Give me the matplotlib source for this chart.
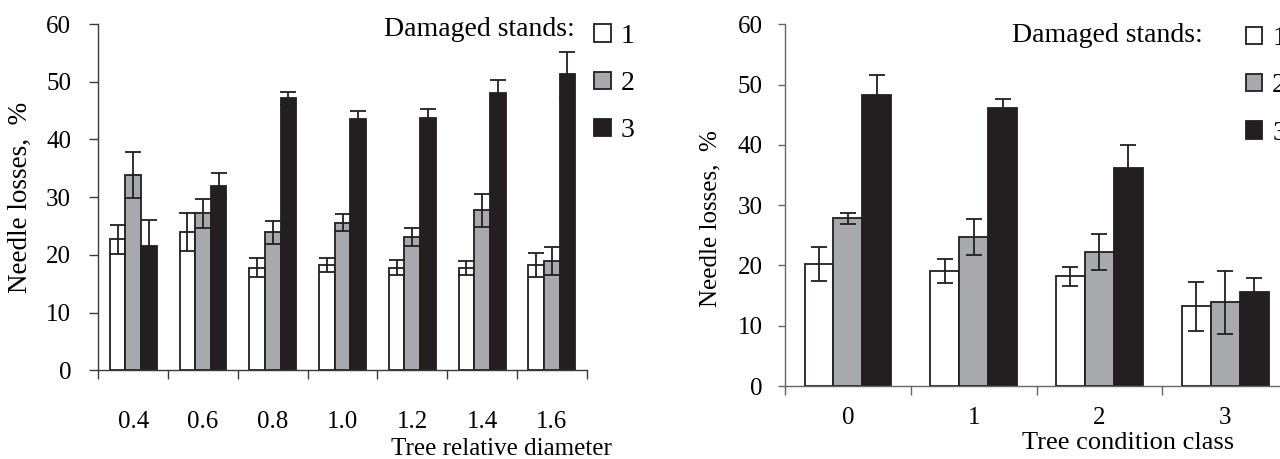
import matplotlib
matplotlib.use("Agg")
import matplotlib.pyplot as plt
import numpy as np

plt.rcParams['font.family'] = ['Liberation Serif', 'DejaVu Serif']

# left panel: needle losses by tree relative diameter
diam_labels = ["0.4", "0.6", "0.8", "1.0", "1.2", "1.4", "1.6"]
diam_s1 = [22.7, 23.9, 17.8, 18.2, 17.8, 17.8, 18.2]
diam_s1_err = [2.5, 3.3, 1.6, 1.2, 1.3, 1.2, 2.1]
diam_s2 = [33.9, 27.2, 23.9, 25.6, 23.1, 27.7, 19.0]
diam_s2_err = [4.0, 2.5, 2.0, 1.5, 1.6, 2.9, 2.4]
diam_s3 = [21.6, 31.9, 47.1, 43.5, 43.8, 48.0, 51.3]
diam_s3_err = [4.4, 2.3, 1.2, 1.5, 1.5, 2.3, 3.9]

# right panel: needle losses by tree condition class
cond_labels = ["0", "1", "2", "3"]
cond_s1 = [20.2, 19.1, 18.2, 13.2]
cond_s1_err = [2.8, 2.0, 1.6, 4.0]
cond_s2 = [27.8, 24.7, 22.3, 13.9]
cond_s2_err = [0.9, 3.0, 3.0, 5.2]
cond_s3 = [48.2, 46.2, 36.2, 15.6]
cond_s3_err = [3.4, 1.4, 3.8, 2.3]

stand_names = ["1", "2", "3"]
colors = ["white", "#a7a9ac", "#231f20"]
dark = "#231f20"


def draw_panel(ax, labels, series, errors, width, capsize, xlabel, ylabel,
               xlabel_pos, ylabel_pos, title_pos, legend_pos, label_pad,
               xlabel_size, ylabel_size, ytick_len, ytick_pad, spine_color):
    x = np.arange(len(labels))
    handles = []
    for i, (vals, errs) in enumerate(zip(series, errors)):
        pos = x + (i - 1) * width
        b = ax.bar(pos, vals, width, color=colors[i], edgecolor=dark,
                   linewidth=1.3, zorder=2)
        ax.errorbar(pos, vals, yerr=errs, fmt="none", ecolor=dark,
                    elinewidth=1.3, capsize=capsize, capthick=1.3, zorder=3)
        handles.append(b)

    ax.set_xlim(-0.5, len(labels) - 0.5)
    ax.set_ylim(0, 60)
    ax.set_yticks(range(0, 61, 10))
    ax.set_xticks(np.arange(len(labels) + 1) - 0.5)
    ax.set_xticklabels([])
    ax.set_xticks(x, minor=True)
    ax.set_xticklabels(labels, minor=True)
    ax.tick_params(axis="x", which="minor", length=0, pad=label_pad, labelsize=18)
    ax.tick_params(axis="x", which="major", length=6.5, width=1, color=spine_color)
    ax.tick_params(axis="y", length=ytick_len, width=1, color=spine_color,
                   labelsize=18, pad=ytick_pad)

    for s in ["top", "right"]:
        ax.spines[s].set_visible(False)
    for s in ["left", "bottom"]:
        ax.spines[s].set_color(spine_color)
        ax.spines[s].set_linewidth(1.0)

    ax.set_xlabel(xlabel, fontsize=xlabel_size)
    ax.xaxis.set_label_coords(*xlabel_pos)
    ax.xaxis.label.set_va("center")
    ax.set_ylabel(ylabel, fontsize=ylabel_size)
    ax.yaxis.set_label_coords(*ylabel_pos)
    ax.yaxis.label.set_va("center")

    ax.text(title_pos[0], title_pos[1], "Damaged stands:", transform=ax.transAxes,
            ha="right", va="center", fontsize=20)
    ax.legend(handles, stand_names, loc="upper left", bbox_to_anchor=legend_pos,
              frameon=False, fontsize=20, handlelength=0.6, handleheight=0.6,
              handletextpad=0.35, labelspacing=0.8, borderpad=0, borderaxespad=0)


fig = plt.figure(figsize=(12.8, 4.59), dpi=100)

ax1 = fig.add_axes([0.0768, 0.1932, 0.3816, 0.7545])
draw_panel(ax1, diam_labels, [diam_s1, diam_s2, diam_s3],
           [diam_s1_err, diam_s2_err, diam_s3_err], 0.224, 6,
           "Tree relative diameter", "Needle losses,  %",
           (0.8245, -0.226), (-0.160, 0.50), (0.976, 0.983), (1.015, 1.0), 29,
           18, 19.5, 6.5, 13, "#3a3a3a")

ax2 = fig.add_axes([0.6133, 0.159, 0.393, 0.788])
draw_panel(ax2, cond_labels, [cond_s1, cond_s2, cond_s3],
           [cond_s1_err, cond_s2_err, cond_s3_err], 0.23, 6,
           "Tree condition class", "Needle losses,  %",
           (0.682, -0.158), (-0.149, 0.464), (0.831, 0.970), (0.916, 0.995), 15,
           19, 18, 5, 11, "#666666")

fig.savefig("out.png", dpi=100, facecolor="white")
